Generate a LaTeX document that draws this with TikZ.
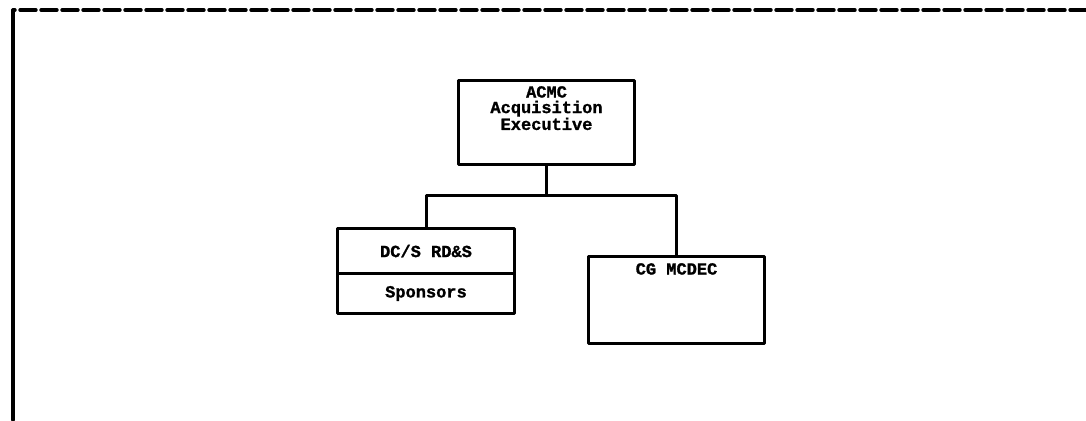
\documentclass[tikz,border=0pt]{standalone}
\usepackage{fontspec}
\newfontfamily\plotfont{Liberation Mono}[BoldFeatures={FakeBold=1.2}]
\begin{document}
\begin{tikzpicture}[x=1pt,y=-1pt,
  line cap=round, line join=round,
  orgbox/.style={draw, line width=3pt, inner sep=0pt, anchor=north west},
  wire/.style={line width=3pt},
  framerule/.style={line width=3.4pt},
  lbl/.style={font=\plotfont\bfseries\fontsize{17}{15.5}\selectfont, align=center, inner sep=0pt}]
\useasboundingbox (0,0) rectangle (1086,420);

% page frame: dashed top rule, solid left rule
\coordinate (frameTR) at (1086,10);
\coordinate (frameTL) at (13,10);
\coordinate (frameBL) at (13,420);
\draw[framerule, dash pattern=on 16pt off 5pt] (frameTR) -- (frameTL);
\draw[framerule] (frameTL) -- (frameBL);

% boxes
\node[orgbox, minimum width=176pt, minimum height=84pt] (acmc) at (457,79) {};
\node[orgbox, minimum width=177pt, minimum height=45pt] (rds) at (336,227) {};
\node[orgbox, minimum width=177pt, minimum height=40pt] (spons) at (336,272) {};
\node[orgbox, minimum width=176pt, minimum height=87pt] (mcdec) at (587,255) {};

% box texts
\node[lbl, anchor=north] (acmcText) at ([yshift=-7pt]acmc.north) {ACMC\\Acquisition\\Executive};
\node[lbl] (rdsText) at (rds.center) {DC/S RD\&S};
\node[lbl] (sponsText) at (spons.center) {Sponsors};
\node[lbl, anchor=north] (mcdecText) at ([yshift=-8pt]mcdec.north) {CG MCDEC};

% connectors
\coordinate (junc) at (acmc.south |- 0,195);
\draw[wire] (acmc.south) -- (junc);
\draw[wire] (rds.north) -- (rds.north |- junc) -- (mcdec.north |- junc) -- (mcdec.north);
\end{tikzpicture}
\end{document}
